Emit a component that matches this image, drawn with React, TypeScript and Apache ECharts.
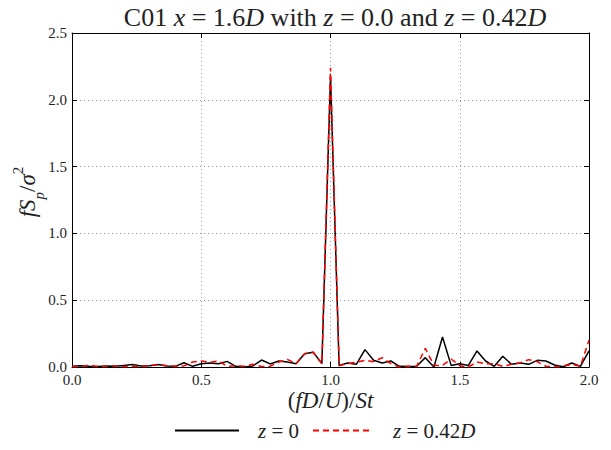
import React, { useEffect, useRef } from "react";
import * as echarts from "echarts";

const xValues: number[] = Array.from({ length: 61 }, (_, i) => +(i / 30).toFixed(4));

const seriesZ0: number[] = [
  0.005, 0.01, 0.005, 0.003, 0.008, 0.005, 0.012, 0.018, 0.008, 0.01,
  0.018, 0.008, 0.005, 0.032, 0.005, 0.025, 0.03, 0.025, 0.042, 0.005,
  0.0, 0.008, 0.052, 0.023, 0.045, 0.037, 0.025, 0.1, 0.11, 0.025,
  2.175, 0.012, 0.03, 0.02, 0.13, 0.05, 0.03, 0.045, 0.005, 0.003,
  0.005, 0.07, 0.0, 0.225, 0.012, 0.025, 0.012, 0.12, 0.045, 0.005,
  0.08, 0.02, 0.03, 0.02, 0.05, 0.045, 0.015, 0.002, 0.03, 0.005, 0.12,
];

const seriesZ042: number[] = [
  0.003, 0.005, 0.012, 0.003, 0.005, 0.008, 0.003, 0.005, 0.004, 0.01,
  0.017, 0.01, 0.005, 0.008, 0.037, 0.045, 0.035, 0.045, 0.005, 0.008,
  0.006, 0.02, 0.003, 0.005, 0.037, 0.057, 0.025, 0.1, 0.11, 0.025,
  2.24, 0.01, 0.025, 0.035, 0.05, 0.04, 0.07, 0.025, 0.0, 0.005,
  0.005, 0.14, 0.012, 0.012, 0.06, 0.01, 0.0, 0.037, 0.025, 0.025,
  0.005, 0.02, 0.03, 0.055, 0.04, 0.005, 0.002, 0.008, 0.02, 0.005, 0.2,
];

const seriesNames: string[] = ["z = 0", "z = 0.42D"];

const FONT = "'Liberation Serif', 'Times New Roman', serif";

export default function App() {
  const ref = useRef<HTMLDivElement>(null);
  useEffect(() => {
    if (!ref.current) return;
    const chart = echarts.init(ref.current, null, { renderer: "svg" });
    const base = { fontFamily: FONT, color: "#222", fontWeight: "normal" as const };
    const mathRich = {
      n: { ...base, fontSize: 26 },
      i: { ...base, fontSize: 26, fontStyle: "italic" },
    };
    const labelRich = {
      n: { ...base, fontSize: 23, lineHeight: 26 },
      i: { ...base, fontSize: 23, fontStyle: "italic", lineHeight: 26 },
      sub: { ...base, fontSize: 15, fontStyle: "italic", verticalAlign: "bottom", lineHeight: 26, padding: [0, 0, -6, 0] },
      sup: { ...base, fontSize: 15, verticalAlign: "top", lineHeight: 26, padding: [-4, 0, 0, 0] },
    };
    const legendRich = {
      n: { ...base, fontSize: 21 },
      i: { ...base, fontSize: 21, fontStyle: "italic" },
    };
    const tickLabel = { fontFamily: FONT, fontSize: 15, color: "#222" };
    const data0 = xValues.map((x, k) => [x, seriesZ0[k]]);
    const data1 = xValues.map((x, k) => [x, seriesZ042[k]]);
    const solidIcon = "path://M0,0H64V2H0Z";
    const dashedIcon =
      "path://M0,0H6V2H0Z M10,0H16V2H10Z M20,0H26V2H20Z M30,0H36V2H30Z M40,0H46V2H40Z M50,0H56V2H50Z M58,0H58.01V2H58Z";
    chart.setOption({
      animation: false,
      backgroundColor: "#fff",
      title: {
        text: "{n|C01 }{i|x}{n| = 1.6}{i|D}{n| with }{i|z}{n| = 0.0 and }{i|z}{n| = 0.42}{i|D}",
        left: 330,
        textAlign: "center",
        top: -1,
        textStyle: { rich: mathRich, fontWeight: "normal" },
      },
      legend: {
        data: [
          { name: seriesNames[0], icon: solidIcon },
          { name: seriesNames[1], icon: dashedIcon },
        ],
        bottom: 4,
        left: 170,
        itemWidth: 64,
        itemHeight: 2,
        itemGap: 14,
        formatter: (name: string) =>
          name === seriesNames[0]
            ? "{i|z}{n| = 0}"
            : "{i|z}{n| = 0.42}{i|D}",
        textStyle: { rich: legendRich, padding: [0, 0, 0, 14] },
      },
      grid: { left: 72, right: 22, top: 33, bottom: 83, containLabel: false, outerBoundsMode: "none" },
      xAxis: [
        {
          type: "value",
          min: 0,
          max: 2,
          interval: 0.5,
          name: "{n|(}{i|fD}{n|/}{i|U}{n|)/}{i|St}",
          nameLocation: "middle",
          nameGap: 20,
          nameMoveOverlap: false,
          nameTextStyle: { rich: labelRich },
          axisLine: { show: true, onZero: false, lineStyle: { color: "#000", width: 1 } },
          axisTick: { show: true, inside: true, length: 5, lineStyle: { color: "#000" } },
          axisLabel: { ...tickLabel, margin: 5, formatter: (v: number) => v.toFixed(1) },
          splitLine: { show: true, lineStyle: { color: "#999", type: [1, 3], width: 1 } },
        },
        {
          type: "value",
          position: "top",
          min: 0,
          max: 2,
          interval: 0.5,
          axisLine: { show: true, onZero: false, lineStyle: { color: "#000", width: 1 } },
          axisTick: { show: true, inside: true, length: 5, lineStyle: { color: "#000" } },
          axisLabel: { show: false },
          splitLine: { show: false },
        },
      ],
      yAxis: [
        {
          type: "value",
          min: 0,
          max: 2.5,
          interval: 0.5,
          name: "{i|fS}{sub|p}{n|/}{i|σ}{sup|2}",
          nameLocation: "middle",
          nameRotate: 90,
          nameGap: 32,
          nameMoveOverlap: false,
          nameTextStyle: { rich: labelRich, padding: [0, 0, 0, 16] },
          axisLine: { show: true, onZero: false, lineStyle: { color: "#000", width: 1 } },
          axisTick: { show: true, inside: true, length: 5, lineStyle: { color: "#000" } },
          axisLabel: { ...tickLabel, margin: 5, formatter: (v: number) => v.toFixed(1) },
          splitLine: { show: true, lineStyle: { color: "#999", type: [1, 3], width: 1 } },
        },
        {
          type: "value",
          position: "right",
          min: 0,
          max: 2.5,
          interval: 0.5,
          axisLine: { show: true, onZero: false, lineStyle: { color: "#000", width: 1 } },
          axisTick: { show: true, inside: true, length: 5, lineStyle: { color: "#000" } },
          axisLabel: { show: false },
          splitLine: { show: false },
        },
      ],
      series: [
        {
          name: seriesNames[0],
          type: "line",
          data: data0,
          showSymbol: false,
          symbol: "none",
          lineStyle: { color: "#000", width: 1.5 },
          itemStyle: { color: "#000" },
        },
        {
          name: seriesNames[1],
          type: "line",
          data: data1,
          showSymbol: false,
          symbol: "none",
          lineStyle: { color: "#ff0000", width: 1.5, type: [6, 4] },
          itemStyle: { color: "#ff0000" },
        },
      ],
    });
    return () => chart.dispose();
  }, []);
  return (
    <div
      ref={ref}
      style={{ position: "fixed", left: 0, top: 0, width: 611, height: 450 }}
    />
  );
}
